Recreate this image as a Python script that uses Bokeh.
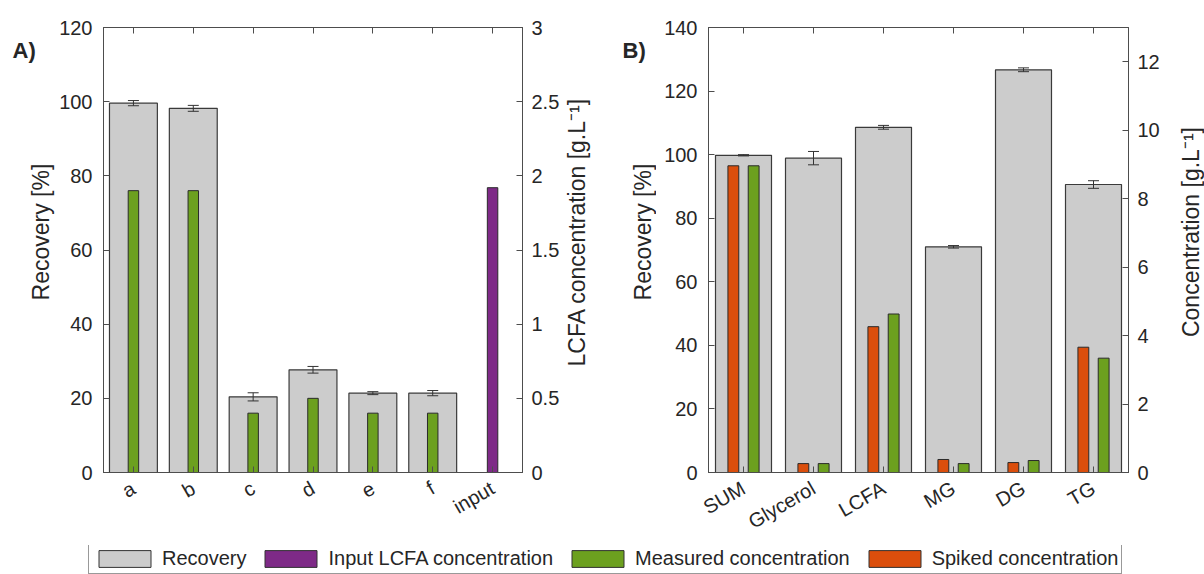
import math
from bokeh.plotting import figure
from bokeh.models import (Range1d, LinearAxis, FixedTicker, CustomJSTickFormatter,
                          Whisker, ColumnDataSource, Legend, LegendItem, TeeHead)
from bokeh.core.properties import value
from bokeh.layouts import column, row
from bokeh.embed import file_html
from bokeh.resources import INLINE

# ---------------- data ----------------
a_categories = ["a", "b", "c", "d", "e", "f", "input"]
a_recovery = [99.6, 98.2, 20.4, 27.7, 21.4, 21.4]
a_recovery_err = [0.7, 0.8, 1.1, 0.9, 0.4, 0.7]
a_measured = [1.90, 1.90, 0.40, 0.50, 0.40, 0.40]
a_input = [1.92]
a_left_ticks = [0, 20, 40, 60, 80, 100, 120]
a_right_ticks = [0, 0.5, 1, 1.5, 2, 2.5, 3]

b_categories = ["SUM", "Glycerol", "LCFA", "MG", "DG", "TG"]
b_recovery = [99.8, 98.9, 108.6, 71.0, 126.7, 90.6]
b_recovery_err = [0.2, 2.1, 0.6, 0.4, 0.6, 1.2]
b_spiked = [8.96, 0.26, 4.26, 0.38, 0.29, 3.66]
b_measured = [8.96, 0.26, 4.63, 0.26, 0.35, 3.34]
b_left_ticks = [0, 20, 40, 60, 80, 100, 120, 140]
b_right_ticks = [0, 2, 4, 6, 8, 10, 12]

y_label = "Recovery [%]"
a_y2_label = "LCFA concentration [g.L\u207b\u00b9]"
b_y2_label = "Concentration [g.L\u207b\u00b9]"
legend_labels = ["Recovery", "Input LCFA concentration", "Measured concentration", "Spiked concentration"]

# ---------------- style ----------------
FONT = "Liberation Sans"
TXT = "#262626"
AX = "#4d4d4d"
GRAY = "#CCCCCC"
GRAY_EDGE = "#3a3a3a"
PURPLE = "#7E2A87"
GREEN = "#6CA01F"
ORANGE = "#DB4E0C"
BAR_EDGE = "#2a2a2a"
TICK_FS = "20px"
LABEL_FS = "23px"
TOP_H = 545
FRAME_TOP = 27
FRAME_H = 447
FRAME_MID = FRAME_TOP + FRAME_H / 2.0


def style_axis(ax):
    ax.axis_line_color = AX
    ax.axis_line_width = 1
    ax.major_tick_line_color = AX
    ax.major_tick_in = 6
    ax.major_tick_out = 0
    ax.minor_tick_line_color = None
    ax.major_label_text_font = FONT
    ax.major_label_text_font_size = TICK_FS
    ax.major_label_text_color = TXT


def make_panel(width, bl, br, cats, y_max, y_ticks, y2_max, y2_ticks):
    n = len(cats)
    xs = list(range(1, n + 1))
    p = figure(width=width, height=TOP_H, x_range=Range1d(0.5, n + 0.5),
               y_range=Range1d(0, y_max), output_backend="svg", toolbar_location=None,
               min_border_left=bl, min_border_right=br, min_border_top=FRAME_TOP,
               min_border_bottom=TOP_H - FRAME_TOP - FRAME_H)
    p.extra_y_ranges = {"conc": Range1d(0, y2_max)}
    p.xgrid.visible = False
    p.ygrid.visible = False
    p.outline_line_color = AX
    p.background_fill_color = "white"
    p.border_fill_color = "white"

    xa = p.xaxis[0]
    style_axis(xa)
    xa.ticker = FixedTicker(ticks=xs)
    xa.formatter = CustomJSTickFormatter(args=dict(labels=cats),
                                         code="return labels[Math.round(tick)-1] || ''")
    xa.major_label_orientation = math.pi / 6
    xa.major_label_standoff = 14

    ya = p.yaxis[0]
    style_axis(ya)
    ya.ticker = FixedTicker(ticks=y_ticks)
    ya.major_label_standoff = 11

    ra = LinearAxis(y_range_name="conc", ticker=FixedTicker(ticks=y2_ticks),
                    formatter=CustomJSTickFormatter(code="return String(tick)"))
    style_axis(ra)
    ra.major_label_standoff = 9
    p.add_layout(ra, "right")

    ta = LinearAxis(ticker=FixedTicker(ticks=xs),
                    formatter=CustomJSTickFormatter(code="return ''"))
    style_axis(ta)
    ta.major_label_standoff = 0
    p.add_layout(ta, "above")
    return p, xs


def text_strip(width, entries):
    """A plain strip (pixel coordinates) that carries the panel letters and axis titles."""
    f = figure(width=width, height=TOP_H, x_range=Range1d(0, width), y_range=Range1d(0, TOP_H),
               output_backend="svg", toolbar_location=None, min_border=0,
               x_axis_location=None, y_axis_location=None)
    f.outline_line_color = None
    f.grid.visible = False
    f.background_fill_color = "white"
    f.border_fill_color = "white"
    for (x, y_top, txt, angle, align, size, style) in entries:
        f.text(x=[x], y=[TOP_H - y_top], text=[txt], angle=angle, text_align=align,
               text_baseline="middle", text_font=value(FONT), text_font_size=value(size),
               text_font_style=style, text_color=TXT)
    return f


def add_whiskers(p, xs, vals, errs):
    src = ColumnDataSource(dict(
        x=xs,
        upper=[v + e for v, e in zip(vals, errs)],
        lower=[v - e for v, e in zip(vals, errs)]))
    p.add_layout(Whisker(base="x", upper="upper", lower="lower", source=src,
                         line_color="#333333", line_width=1, level="overlay",
                         upper_head=TeeHead(size=11, line_color="#333333", line_width=1),
                         lower_head=TeeHead(size=11, line_color="#333333", line_width=1)))


# ---------------- panel A (canvas x 0..606) ----------------
ha_left = text_strip(56, [(12, 28, "A)", 0, "left", "22px", "bold"),
                          (40, FRAME_MID, y_label, math.pi / 2, "center", LABEL_FS, "normal")])
pa, xa_pos = make_panel(506, 47, 39, a_categories, 120, a_left_ticks, 3, a_right_ticks)
n_a = len(a_recovery)
pa.vbar(x=xa_pos[:n_a], top=a_recovery, width=0.8, fill_color=GRAY,
        line_color=GRAY_EDGE, line_width=1.2)
add_whiskers(pa, xa_pos[:n_a], a_recovery, a_recovery_err)
pa.vbar(x=xa_pos[:n_a], top=a_measured, width=0.175, y_range_name="conc",
        fill_color=GREEN, line_color=BAR_EDGE, line_width=1)
pa.vbar(x=xa_pos[n_a:], top=a_input, width=0.175, y_range_name="conc",
        fill_color=PURPLE, line_color=BAR_EDGE, line_width=1)
ha_right = text_strip(44, [(14, FRAME_MID, a_y2_label, math.pi / 2, "center", LABEL_FS, "normal")])

# ---------------- panel B (canvas x 606..1204) ----------------
hb_left = text_strip(50, [(16, 28, "B)", 0, "left", "22px", "bold"),
                          (36, FRAME_MID, y_label, math.pi / 2, "center", LABEL_FS, "normal")])
pb, xb_pos = make_panel(510, 52, 38, b_categories, 140, b_left_ticks, 13, b_right_ticks)
pb.vbar(x=xb_pos, top=b_recovery, width=0.8, fill_color=GRAY,
        line_color=GRAY_EDGE, line_width=1.2)
add_whiskers(pb, xb_pos, b_recovery, b_recovery_err)
off = 0.145
pb.vbar(x=[x - off for x in xb_pos], top=b_spiked, width=0.155, y_range_name="conc",
        fill_color=ORANGE, line_color=BAR_EDGE, line_width=1)
pb.vbar(x=[x + off for x in xb_pos], top=b_measured, width=0.155, y_range_name="conc",
        fill_color=GREEN, line_color=BAR_EDGE, line_width=1)
hb_right = text_strip(38, [(24, FRAME_MID, b_y2_label, math.pi / 2, "center", LABEL_FS, "normal")])

# ---------------- shared legend ----------------
pl = figure(width=1204, height=574 - TOP_H, x_range=Range1d(0, 1), y_range=Range1d(0, 1),
            output_backend="svg", toolbar_location=None, min_border=0,
            x_axis_location=None, y_axis_location=None)
pl.outline_line_color = None
pl.grid.visible = False
leg_colors = [GRAY, PURPLE, GREEN, ORANGE]
items = []
for lab, col in zip(legend_labels, leg_colors):
    # placeholder glyph outside the visible range, only used for the legend swatch
    r = pl.vbar(x=[5], top=[1], width=0.1, fill_color=col, line_color="#333333", line_width=1)
    items.append(LegendItem(label=lab, renderers=[r]))
leg = Legend(items=items, orientation="horizontal", location=(88, 0), glyph_width=65,
             glyph_height=21, label_standoff=5, spacing=12, padding=3, margin=0,
             border_line_color="#333333", border_line_width=1,
             label_text_font=FONT, label_text_font_size="20px", label_text_color=TXT,
             background_fill_color="white", background_fill_alpha=1)
pl.add_layout(leg)

layout = column(row(ha_left, pa, ha_right, hb_left, pb, hb_right), pl)
open("out.html", "w").write(file_html(layout, INLINE))
